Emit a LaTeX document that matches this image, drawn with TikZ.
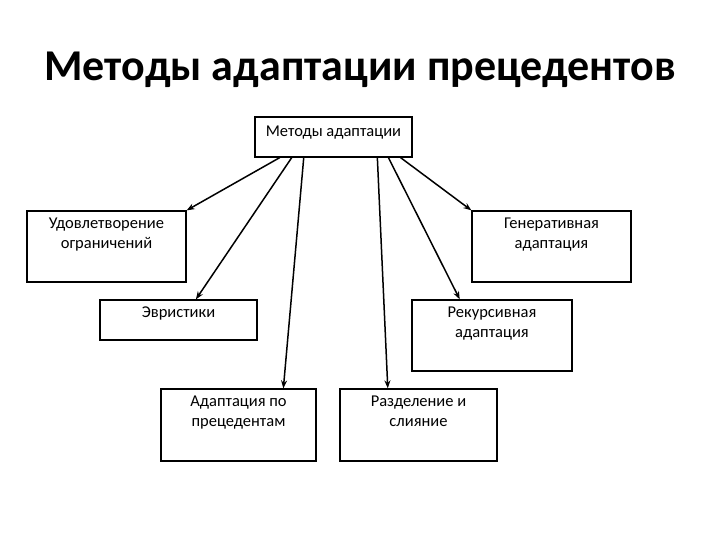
\documentclass[tikz,border=0pt]{standalone}
\usepackage{fontspec}
\setmainfont{Carlito}
\usetikzlibrary{arrows.meta,calc}
\begin{document}
\begin{tikzpicture}[x=1pt,y=-1pt,
  box/.style={draw, line width=1.3pt, inner sep=0pt},
  txt/.style={font=\fontsize{16.5}{20}\selectfont, align=center, anchor=north, inner sep=0pt},
  arr/.style={line width=1.5pt, -{Stealth[length=8pt,width=6pt]}}]
\useasboundingbox (0,0) rectangle (720,540);
\node[font=\fontsize{44}{50}\selectfont\bfseries] (title) at (360,70) {Методы адаптации прецедентов};
\node[box, minimum width=157pt, minimum height=40pt] (top) at (333.5,137) {};
\node[txt] at ($(top.north)+(0,9)$) {Методы адаптации};
\node[box, minimum width=159pt, minimum height=71pt] (ud) at (106.5,246.5) {};
\node[txt] at ($(ud.north)+(0,7)$) {Удовлетворение\\ограничений};
\node[box, minimum width=159pt, minimum height=71pt] (gen) at (551.5,246.5) {};
\node[txt] at ($(gen.north)+(0,7)$) {Генеративная\\адаптация};
\node[box, minimum width=157pt, minimum height=40pt] (evr) at (178.5,320) {};
\node[txt] at ($(evr.north)+(0,7)$) {Эвристики};
\node[box, minimum width=160pt, minimum height=71pt] (rek) at (492,335.5) {};
\node[txt] at ($(rek.north)+(0,7)$) {Рекурсивная\\адаптация};
\node[box, minimum width=155pt, minimum height=72pt] (adp) at (238.5,425) {};
\node[txt] at ($(adp.north)+(0,7)$) {Адаптация по\\прецедентам};
\node[box, minimum width=157pt, minimum height=72pt] (raz) at (418.5,425) {};
\node[txt] at ($(raz.north)+(0,7)$) {Разделение и\\слияние};
\draw[arr] ($(top.south west)!0.16!(top.south east)$) -- (ud.north east);
\draw[arr] ($(top.south west)!0.236!(top.south east)$) -- ($(evr.north west)!0.61!(evr.north east)$);
\draw[arr] ($(top.south west)!0.312!(top.south east)$) -- ($(adp.north west)!0.787!(adp.north east)$);
\draw[arr] ($(top.south west)!0.777!(top.south east)$) -- ($(raz.north west)!0.306!(raz.north east)$);
\draw[arr] ($(top.south west)!0.847!(top.south east)$) -- ($(rek.north west)!0.30!(rek.north east)$);
\draw[arr] ($(top.south west)!0.924!(top.south east)$) -- (gen.north west);
\end{tikzpicture}
\end{document}
